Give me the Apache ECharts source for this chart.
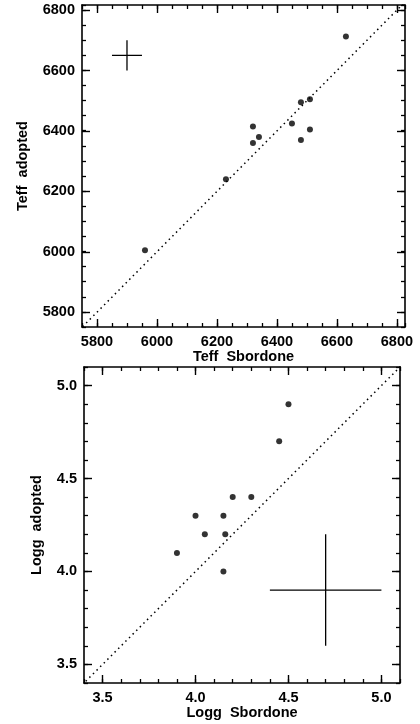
<!DOCTYPE html>
<html>
<head>
<meta charset="utf-8">
<script src="https://cdn.jsdelivr.net/npm/echarts@6/dist/echarts.min.js"></script>
<style>
html,body{margin:0;padding:0;background:#fff;}
#chart{width:420px;height:724px;}
</style>
</head>
<body>
<div id="chart"></div>
<script>
// ---- data (top panel: Teff) ----
var teffSbordone = [5960, 6230, 6320, 6320, 6340, 6450, 6480, 6480, 6510, 6510, 6630];
var teffAdopted  = [6005, 6240, 6415, 6360, 6380, 6425, 6495, 6370, 6505, 6405, 6713];
var teffTicks = [5800, 6000, 6200, 6400, 6600, 6800];
var teffErrCenter = [5900, 6650];
var teffErr = [50, 50];

// ---- data (bottom panel: log g) ----
var loggSbordone = [3.90, 4.00, 4.05, 4.15, 4.16, 4.15, 4.20, 4.30, 4.45, 4.50];
var loggAdopted  = [4.10, 4.30, 4.20, 4.30, 4.20, 4.00, 4.40, 4.40, 4.70, 4.90];
var loggTicks = [3.5, 4.0, 4.5, 5.0];
var loggErrCenter = [4.70, 3.90];
var loggErr = [0.3, 0.3];

var FONT = 'Liberation Sans';
var FS = 14.5;

function pairs(xs, ys) { return xs.map(function (x, i) { return [x, ys[i]]; }); }

function makeAxes(dim, gridIndex, min, max, minorInt, majors, fmt, name, nameGap) {
  var posA = dim === 'x' ? 'bottom' : 'left';
  var posB = dim === 'x' ? 'top' : 'right';
  var base = { type: 'value', gridIndex: gridIndex, min: min, max: max, splitLine: { show: false } };
  var axes = [];
  axes.push(Object.assign({}, base, {
    position: posA,
    interval: minorInt,
    name: name, nameLocation: 'middle', nameGap: nameGap,
    nameRotate: dim === 'y' ? 90 : 0,
    nameTextStyle: { fontFamily: FONT, fontWeight: 'bold', fontSize: FS, color: '#000' },
    axisLine: { show: true, lineStyle: { color: '#000', width: 1.6 } },
    axisTick: { show: true, inside: true, length: 8, customValues: majors, lineStyle: { color: '#000', width: 1.4 } },
    axisLabel: { show: true, customValues: majors, margin: 7, formatter: fmt,
      fontFamily: FONT, fontWeight: 'bold', fontSize: FS, color: '#000' }
  }));
  axes.push(Object.assign({}, base, {
    position: posA, interval: minorInt,
    axisLine: { show: false },
    axisTick: { show: true, inside: true, length: 4, lineStyle: { color: '#000', width: 1.3 } },
    axisLabel: { show: false }
  }));
  axes.push(Object.assign({}, base, {
    position: posB, interval: minorInt,
    axisLine: { show: true, lineStyle: { color: '#000', width: 1.6 } },
    axisTick: { show: true, inside: true, length: 8, customValues: majors, lineStyle: { color: '#000', width: 1.4 } },
    axisLabel: { show: false }
  }));
  axes.push(Object.assign({}, base, {
    position: posB, interval: minorInt,
    axisLine: { show: false },
    axisTick: { show: true, inside: true, length: 4, lineStyle: { color: '#000', width: 1.3 } },
    axisLabel: { show: false }
  }));
  return axes;
}

var fmtInt = function (v) { return String(Math.round(v)); };
var fmt1 = function (v) { return Number(v).toFixed(1); };

var xAxes = [].concat(
  makeAxes('x', 0, 5750, 6827, 50, teffTicks, fmtInt, 'Teff  Sbordone', 22),
  makeAxes('x', 1, 3.4, 5.1, 0.1, loggTicks, fmt1, 'Logg  Sbordone', 22)
);
var yAxes = [].concat(
  makeAxes('y', 0, 5751, 6817, 50, teffTicks, fmtInt, 'Teff  adopted', 52),
  makeAxes('y', 1, 3.4, 5.1, 0.1, loggTicks, fmt1, 'Logg  adopted', 40)
);

function panelSeries(xi, yi, xs, ys, lo, hi, c, e, size) {
  var lineCommon = { type: 'line', xAxisIndex: xi, yAxisIndex: yi, symbol: 'none', silent: true, animation: false, clip: true };
  return [
    Object.assign({}, lineCommon, {
      data: [[lo, lo], [hi, hi]],
      lineStyle: { color: '#000', width: 1.5, type: [1.5, 3.6] }
    }),
    Object.assign({}, lineCommon, {
      data: [[c[0] - e[0], c[1]], [c[0] + e[0], c[1]]],
      lineStyle: { color: '#000', width: 1.3, type: 'solid' }
    }),
    Object.assign({}, lineCommon, {
      data: [[c[0], c[1] - e[1]], [c[0], c[1] + e[1]]],
      lineStyle: { color: '#000', width: 1.3, type: 'solid' }
    }),
    {
      type: 'scatter', xAxisIndex: xi, yAxisIndex: yi, symbol: 'circle', symbolSize: size,
      data: pairs(xs, ys), itemStyle: { color: '#000' }, animation: false
    }
  ];
}

var option = {
  backgroundColor: '#fff',
  animation: false,
  grid: [
    { left: 82, top: 5, width: 323, height: 322, containLabel: false },
    { left: 84, top: 367, width: 316, height: 316, containLabel: false }
  ],
  xAxis: xAxes,
  yAxis: yAxes,
  series: [].concat(
    panelSeries(0, 0, teffSbordone, teffAdopted, 5740, 6830, teffErrCenter, teffErr, 6),
    panelSeries(4, 4, loggSbordone, loggAdopted, 3.39, 5.11, loggErrCenter, loggErr, 6)
  )
};

var chart = echarts.init(document.getElementById('chart'), null, { renderer: 'canvas' });
chart.setOption(option);
</script>
</body>
</html>
